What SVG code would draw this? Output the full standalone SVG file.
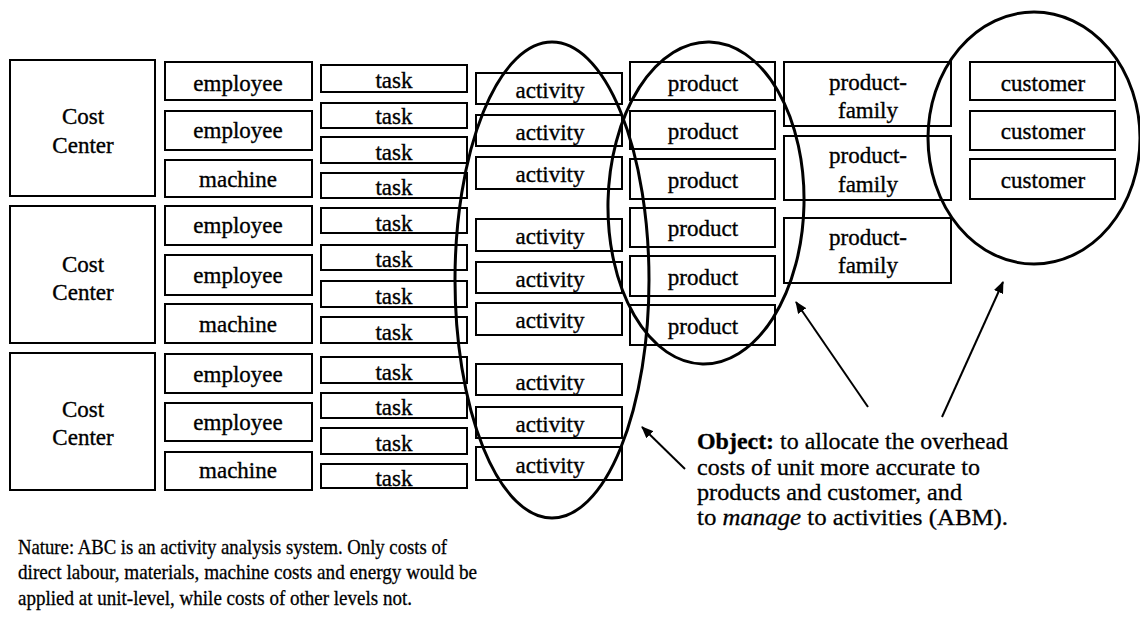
<svg xmlns="http://www.w3.org/2000/svg" width="1140" height="625" viewBox="0 0 1140 625">
  <style>
    .box { fill: #fff; stroke: #000; stroke-width: 2; }
    .lbl { font-family: "Liberation Serif", "Times New Roman", serif; font-size: 23px; text-anchor: middle; fill: #000; stroke: #000; stroke-width: 0.35; }
    .ring { fill: none; stroke: #000; stroke-width: 3; }
    .arrow { stroke: #000; stroke-width: 2; fill: none; marker-end: url(#head); }
    .note { font-family: "Liberation Serif", "Times New Roman", serif; fill: #000; stroke: #000; stroke-width: 0.3; }
  </style>
  <defs>
    <marker id="head" viewBox="0 0 12 10" refX="11" refY="5" markerWidth="12" markerHeight="10" markerUnits="userSpaceOnUse" orient="auto">
      <path d="M0,0 L12,5 L0,10 Z" fill="#000"/>
    </marker>
  </defs>
  <rect width="1140" height="625" fill="#fff"/>

  <!-- cost centers -->
  <g id="cost-center-1"><rect class="box" x="10" y="60" width="145" height="136"/><text class="lbl" x="83" y="124">Cost</text><text class="lbl" x="83" y="153">Center</text></g>
  <g id="cost-center-2"><rect class="box" x="10" y="206" width="145" height="137"/><text class="lbl" x="83" y="272">Cost</text><text class="lbl" x="83" y="300">Center</text></g>
  <g id="cost-center-3"><rect class="box" x="10" y="353" width="145" height="137"/><text class="lbl" x="83" y="417">Cost</text><text class="lbl" x="83" y="445">Center</text></g>

  <!-- resources -->
  <g id="employee-1"><rect class="box" x="165" y="62" width="147" height="38"/><text class="lbl" x="238" y="91">employee</text></g>
  <g id="employee-2"><rect class="box" x="165" y="111" width="147" height="39"/><text class="lbl" x="238" y="138">employee</text></g>
  <g id="machine-1"><rect class="box" x="165" y="160" width="147" height="37"/><text class="lbl" x="238" y="187">machine</text></g>
  <g id="employee-3"><rect class="box" x="165" y="206" width="147" height="39"/><text class="lbl" x="238" y="233">employee</text></g>
  <g id="employee-4"><rect class="box" x="165" y="255" width="147" height="40"/><text class="lbl" x="238" y="283">employee</text></g>
  <g id="machine-2"><rect class="box" x="165" y="304" width="147" height="39"/><text class="lbl" x="238" y="332">machine</text></g>
  <g id="employee-5"><rect class="box" x="165" y="354" width="147" height="39"/><text class="lbl" x="238" y="382">employee</text></g>
  <g id="employee-6"><rect class="box" x="165" y="403" width="147" height="38"/><text class="lbl" x="238" y="430">employee</text></g>
  <g id="machine-3"><rect class="box" x="165" y="452" width="147" height="38"/><text class="lbl" x="238" y="478">machine</text></g>

  <!-- tasks -->
  <g id="task-1"><rect class="box" x="321" y="65" width="146" height="27"/><text class="lbl" x="394" y="88">task</text></g>
  <g id="task-2"><rect class="box" x="321" y="103" width="146" height="25"/><text class="lbl" x="394" y="124">task</text></g>
  <g id="task-3"><rect class="box" x="321" y="137" width="146" height="26"/><text class="lbl" x="394" y="160">task</text></g>
  <g id="task-4"><rect class="box" x="321" y="173" width="146" height="25"/><text class="lbl" x="394" y="195">task</text></g>
  <g id="task-5"><rect class="box" x="321" y="208" width="146" height="25"/><text class="lbl" x="394" y="231">task</text></g>
  <g id="task-6"><rect class="box" x="321" y="245" width="146" height="25"/><text class="lbl" x="394" y="267">task</text></g>
  <g id="task-7"><rect class="box" x="321" y="281" width="146" height="26"/><text class="lbl" x="394" y="304">task</text></g>
  <g id="task-8"><rect class="box" x="321" y="317" width="146" height="26"/><text class="lbl" x="394" y="340">task</text></g>
  <g id="task-9"><rect class="box" x="321" y="357" width="146" height="26"/><text class="lbl" x="394" y="380">task</text></g>
  <g id="task-10"><rect class="box" x="321" y="393" width="146" height="25"/><text class="lbl" x="394" y="415">task</text></g>
  <g id="task-11"><rect class="box" x="321" y="428" width="146" height="26"/><text class="lbl" x="394" y="451">task</text></g>
  <g id="task-12"><rect class="box" x="321" y="464" width="146" height="24"/><text class="lbl" x="394" y="486">task</text></g>

  <!-- activities -->
  <g id="activity-1"><rect class="box" x="476" y="73" width="146" height="31"/><text class="lbl" x="550" y="98">activity</text></g>
  <g id="activity-2"><rect class="box" x="476" y="115" width="146" height="31"/><text class="lbl" x="550" y="140">activity</text></g>
  <g id="activity-3"><rect class="box" x="476" y="157" width="146" height="32"/><text class="lbl" x="550" y="182">activity</text></g>
  <g id="activity-4"><rect class="box" x="476" y="219" width="146" height="32"/><text class="lbl" x="550" y="244">activity</text></g>
  <g id="activity-5"><rect class="box" x="476" y="262" width="146" height="31"/><text class="lbl" x="550" y="287">activity</text></g>
  <g id="activity-6"><rect class="box" x="476" y="303" width="146" height="32"/><text class="lbl" x="550" y="328">activity</text></g>
  <g id="activity-7"><rect class="box" x="476" y="364" width="146" height="31"/><text class="lbl" x="550" y="390">activity</text></g>
  <g id="activity-8"><rect class="box" x="476" y="407" width="146" height="31"/><text class="lbl" x="550" y="432">activity</text></g>
  <g id="activity-9"><rect class="box" x="476" y="447" width="146" height="33"/><text class="lbl" x="550" y="473">activity</text></g>

  <!-- products -->
  <g id="product-1"><rect class="box" x="630" y="62" width="145" height="38"/><text class="lbl" x="703" y="91">product</text></g>
  <g id="product-2"><rect class="box" x="630" y="111" width="145" height="38"/><text class="lbl" x="703" y="139">product</text></g>
  <g id="product-3"><rect class="box" x="630" y="159" width="145" height="40"/><text class="lbl" x="703" y="188">product</text></g>
  <g id="product-4"><rect class="box" x="630" y="208" width="145" height="39"/><text class="lbl" x="703" y="236">product</text></g>
  <g id="product-5"><rect class="box" x="630" y="256" width="145" height="40"/><text class="lbl" x="703" y="285">product</text></g>
  <g id="product-6"><rect class="box" x="630" y="305" width="145" height="40"/><text class="lbl" x="703" y="334">product</text></g>

  <!-- product families -->
  <g id="product-family-1"><rect class="box" x="784" y="62" width="167" height="64"/><text class="lbl" x="868" y="90">product-</text><text class="lbl" x="868" y="118">family</text></g>
  <g id="product-family-2"><rect class="box" x="784" y="136" width="167" height="64"/><text class="lbl" x="868" y="163">product-</text><text class="lbl" x="868" y="192">family</text></g>
  <g id="product-family-3"><rect class="box" x="784" y="218" width="167" height="65"/><text class="lbl" x="868" y="245">product-</text><text class="lbl" x="868" y="273">family</text></g>

  <!-- customers -->
  <g id="customer-1"><rect class="box" x="970" y="62" width="145" height="38"/><text class="lbl" x="1043" y="91">customer</text></g>
  <g id="customer-2"><rect class="box" x="970" y="111" width="145" height="39"/><text class="lbl" x="1043" y="139">customer</text></g>
  <g id="customer-3"><rect class="box" x="970" y="159" width="145" height="40"/><text class="lbl" x="1043" y="188">customer</text></g>

  <!-- groupings -->
  <g id="groupings">
    <ellipse class="ring" cx="552" cy="280" rx="97" ry="238"/>
    <ellipse class="ring" cx="706" cy="203" rx="98" ry="161" transform="rotate(1.25 706 203)"/>
    <ellipse class="ring" cx="1034" cy="138" rx="106" ry="126"/>
  </g>

  <!-- connectors -->
  <g id="connectors">
    <line class="arrow" x1="685" y1="469" x2="642" y2="427"/>
    <line class="arrow" x1="868" y1="407" x2="796" y2="302"/>
    <line class="arrow" x1="942" y1="417" x2="1003" y2="282"/>
  </g>

  <!-- annotations -->
  <g id="object-note" class="note" font-size="23">
    <text x="697" y="449" textLength="311" lengthAdjust="spacingAndGlyphs"><tspan font-weight="bold">Object:</tspan> to allocate the overhead</text>
    <text x="697" y="475" textLength="283" lengthAdjust="spacingAndGlyphs">costs of unit more accurate to</text>
    <text x="697" y="500" textLength="265" lengthAdjust="spacingAndGlyphs">products and customer, and</text>
    <text x="697" y="525" textLength="311" lengthAdjust="spacingAndGlyphs">to <tspan font-style="italic">manage</tspan> to activities (ABM).</text>
  </g>
  <g id="nature-note" class="note" font-size="21">
    <text x="18" y="554" textLength="429" lengthAdjust="spacingAndGlyphs">Nature: ABC is an activity analysis system. Only costs of</text>
    <text x="18" y="579" textLength="459" lengthAdjust="spacingAndGlyphs">direct labour, materials, machine costs and energy would be</text>
    <text x="18" y="605" textLength="394" lengthAdjust="spacingAndGlyphs">applied at unit-level, while costs of other levels not.</text>
  </g>
</svg>
